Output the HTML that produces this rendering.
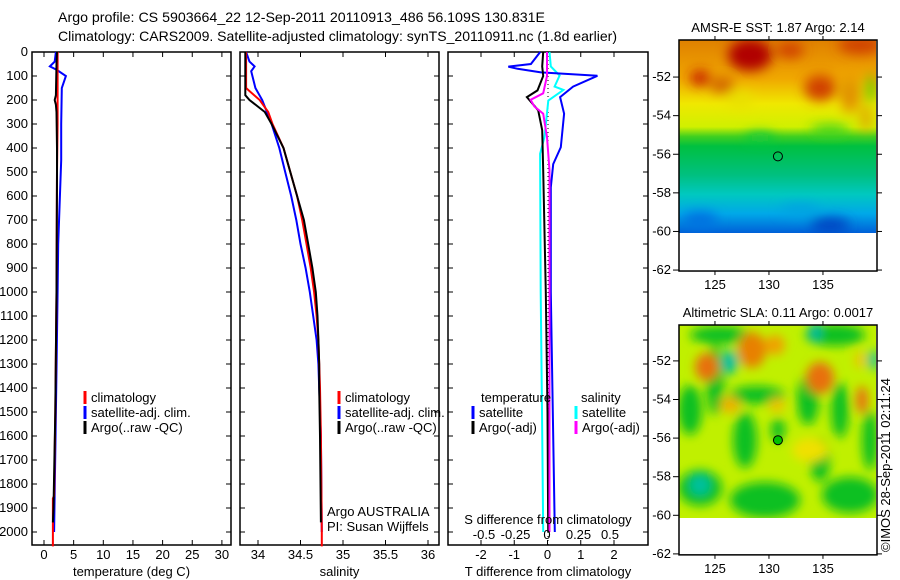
<!DOCTYPE html>
<html><head><meta charset="utf-8"><style>
body{margin:0;background:#fff;}
svg{display:block;font-family:"Liberation Sans",sans-serif;}
text{fill:#000;}
</style></head><body>
<svg id="c" width="900" height="580" viewBox="0 0 900 580">
<defs>
<filter id="bl1" x="-50%" y="-50%" width="200%" height="200%"><feGaussianBlur stdDeviation="6"/></filter>
<filter id="bl2" x="-50%" y="-50%" width="200%" height="200%"><feGaussianBlur stdDeviation="5"/></filter>
<clipPath id="cm1"><rect x="679" y="40" width="197" height="193"/></clipPath>
<clipPath id="cm2"><rect x="679" y="325" width="197" height="193"/></clipPath>
<linearGradient id="g1" x1="0" y1="0" x2="0" y2="1">
<stop offset="0" stop-color="#e08000"/><stop offset="0.2" stop-color="#f0a800"/><stop offset="0.33" stop-color="#f0e800"/><stop offset="0.45" stop-color="#d0f000"/><stop offset="0.5" stop-color="#40d020"/><stop offset="0.55" stop-color="#00c040"/><stop offset="0.7" stop-color="#00c080"/><stop offset="0.8" stop-color="#00c8c0"/><stop offset="0.9" stop-color="#00a8e8"/><stop offset="1" stop-color="#0060d8"/>
</linearGradient>
</defs>
<text x="58" y="22" font-size="14" textLength="487" lengthAdjust="spacingAndGlyphs">Argo profile: CS 5903664_22 12-Sep-2011 20110913_486 56.109S 130.831E</text>
<text x="58" y="41" font-size="14" textLength="559" lengthAdjust="spacingAndGlyphs">Climatology: CARS2009. Satellite-adjusted climatology: synTS_20110911.nc (1.8d earlier)</text>
<g id="root"></g>
<text transform="translate(890,552) rotate(-90)" font-size="13">©IMOS 28-Sep-2011 02:11:24</text>
</svg>
<script>
// ---- data ----
const depthTicks=[0,100,200,300,400,500,600,700,800,900,1000,1100,1200,1300,1400,1500,1600,1700,1800,1900,2000];
const tempTicks=[0,5,10,15,20,25,30];
const salTicks=[34,34.5,35,35.5,36];
const tdiffTicks=[-2,-1,0,1,2];
const sdiffTicks=[-0.5,-0.25,0,0.25,0.5];
const latTicks=[-52,-54,-56,-58,-60,-62];
const lonTicks=[125,130,135];

const tClimD=[0,100,200,300,500,1000,1500,1850,1860,2060];
const tClimV=[2.3,2.3,2.3,2.3,2.2,2.1,1.9,1.7,1.5,1.5];
const tSatD=[0,40,60,75,100,150,300,450,800,1000,1500,2000];
const tSatV=[2.0,1.8,1.0,2.2,3.7,3.0,2.9,2.9,2.4,2.3,2.0,1.7];
const tArgoD=[0,50,180,200,220,250,400,500,1000,1500,1900,1960];
const tArgoV=[2.2,2.1,2.0,1.8,2.0,2.1,2.2,2.2,2.1,1.9,1.6,1.5];

const sClimD=[0,150,160,200,250,300,400,500,600,700,800,900,1000,1100,1200,1300,1400,1600,2000,2060];
const sClimV=[33.86,33.86,33.89,34.02,34.12,34.17,34.3,34.38,34.46,34.52,34.57,34.62,34.66,34.69,34.71,34.72,34.73,34.74,34.75,34.75];
const sSatD=[0,40,60,80,150,200,300,400,500,600,700,800,900,1000,1100,1200,1300,1400,1600,2000];
const sSatV=[33.86,33.9,33.96,33.92,33.97,34.05,34.16,34.25,34.32,34.39,34.45,34.5,34.56,34.61,34.65,34.69,34.71,34.72,34.74,34.75];
const sArgoD=[0,180,200,250,300,400,500,600,700,800,900,1000,1100,1200,1300,1400,1600,1960];
const sArgoV=[33.85,33.85,33.9,34.08,34.16,34.3,34.38,34.46,34.54,34.59,34.64,34.68,34.7,34.71,34.72,34.72,34.73,34.74];

const dTSatD=[0,50,61,70,85,99,144,188,257,397,467,564,1000,1500,2000];
const dTSatV=[-0.22,-0.5,-1.18,-0.9,-0.2,1.5,0.77,0.38,0.5,0.4,0.17,0.1,0.1,0.16,0.22];
const dTArgoD=[0,60,100,160,188,243,326,493,1000,1500,2000];
const dTArgoV=[-0.13,-0.16,-0.13,-0.3,-0.62,-0.28,-0.16,-0.13,-0.05,0.0,0.02];
const dSSatD=[0,60,98,144,158,202,354,424,1000,1500,2000];
const dSSatV=[0.02,0.03,0.1,0.06,0.13,0.01,-0.02,-0.055,-0.05,-0.04,-0.03];
const dSArgoD=[0,100,172,199,227,257,354,493,1000,1500,2000];
const dSArgoV=[0,0,-0.03,-0.13,-0.1,-0.03,0,0.02,0.02,0.02,0.02];

const floatLon=[130.831];
const floatLat=[-56.109];

// ---- axes ----
const NS='http://www.w3.org/2000/svg';
const root=document.getElementById('root');
function el(tag,attrs,parent){const e=document.createElementNS(NS,tag);for(const k in attrs)e.setAttribute(k,attrs[k]);(parent||root).appendChild(e);return e;}
const yD=d=>52+d*0.24;
const xT=v=>44+v*5.93;
const xS=v=>258+(v-34)*85;
const xDT=v=>547.5+v*33.25;
const xDS=v=>547+v*126;
const lonX=v=>679+(v-121.67)*10.8;
const lat1=v=>40+(-50.08-v)*19.3;
const lat2=v=>325+(-50.14-v)*19.3;
const BOT=545;
const FS=13;

function panel(x0,x1,name,xf,ticks,label,xlab){
  const r=el('rect',{x:x0,y:52,width:x1-x0,height:BOT-52,fill:'none',stroke:'#000','stroke-width':1.5});
  
  
  depthTicks.forEach(d=>{el('line',{x1:x0,x2:x0+5,y1:yD(d),y2:yD(d),stroke:'#000'});el('line',{x1:x1-5,x2:x1,y1:yD(d),y2:yD(d),stroke:'#000'});});
  ticks.forEach(v=>{const x=xf(v);el('line',{x1:x,x2:x,y1:52,y2:57,stroke:'#000'});el('line',{x1:x,x2:x,y1:BOT-5,y2:BOT,stroke:'#000'});
    const t=el('text',{x:x,y:559,'font-size':FS,'text-anchor':'middle'});t.textContent=String(v);
    
    });
  const t=el('text',{x:(x0+x1)/2,y:576,'font-size':FS,'text-anchor':'middle'});t.textContent=xlab;
  
  
}
function line(D,V,xf,color,name,w){
  const pts=D.map((d,i)=>xf(V[i]).toFixed(1)+','+yD(d).toFixed(1)).join(' ');
  const p=el('polyline',{points:pts,fill:'none',stroke:color,'stroke-width':w||2,'stroke-linejoin':'miter'});
  
  
}
function leg(x,y,color,txt,name){
  el('line',{x1:x,x2:x,y1:y-11,y2:y+2,stroke:color,'stroke-width':3});
  const t=el('text',{x:x+6,y:y,'font-size':FS});t.textContent=txt;
  
  
}
depthTicks.forEach(d=>{const t=el('text',{x:28,y:yD(d)+4,'font-size':FS,'text-anchor':'end'});t.textContent=String(d);
  
  });

panel(32,231,'temperature-panel',xT,tempTicks,'','temperature (deg C)');
line(tSatD,tSatV,xT,'#0000ff','temp-satellite-line');
line(tClimD,tClimV,xT,'#ff0000','temp-climatology-line');
line(tArgoD,tArgoV,xT,'#000','temp-argo-line');
leg(85,402,'#f00','climatology','temp-legend-climatology');
leg(85,417,'#00f','satellite-adj. clim.','temp-legend-satellite');
leg(85,432,'#000','Argo(..raw -QC)','temp-legend-argo');

panel(240,439,'salinity-panel',xS,salTicks,'','salinity');
line(sSatD,sSatV,xS,'#0000ff','sal-satellite-line');
line(sClimD,sClimV,xS,'#ff0000','sal-climatology-line');
line(sArgoD,sArgoV,xS,'#000','sal-argo-line');
leg(339,402,'#f00','climatology','sal-legend-climatology');
leg(339,417,'#00f','satellite-adj. clim.','sal-legend-satellite');
leg(339,432,'#000','Argo(..raw -QC)','sal-legend-argo');
[['Argo AUSTRALIA',516],['PI: Susan Wijffels',531]].forEach(a=>{const t=el('text',{x:327,y:a[1],'font-size':FS});t.textContent=a[0];
  
  });

panel(448,648,'difference-panel',xDT,tdiffTicks,'','T difference from climatology');
const z=el('line',{x1:548,x2:548,y1:52,y2:BOT,stroke:'#000','stroke-dasharray':'1,3'});


line(dSSatD,dSSatV,xDS,'#00ffff','sdiff-satellite-line');
line(dTSatD,dTSatV,xDT,'#0000ff','tdiff-satellite-line');
line(dTArgoD,dTArgoV,xDT,'#000','tdiff-argo-line');
line(dSArgoD,dSArgoV,xDS,'#ff00ff','sdiff-argo-line');
[['temperature',481],['salinity',581]].forEach(a=>{const t=el('text',{x:a[1],y:402,'font-size':FS});t.textContent=a[0];
  
  });
leg(473,417,'#00f','satellite','tdiff-legend-satellite');
leg(473,432,'#000','Argo(-adj)','tdiff-legend-argo');
leg(576,417,'#0ff','satellite','sdiff-legend-satellite');
leg(576,432,'#f0f','Argo(-adj)','sdiff-legend-argo');
{const t=el('text',{x:548,y:524,'font-size':FS,'text-anchor':'middle'});t.textContent='S difference from climatology';
 
 }
sdiffTicks.forEach(v=>{const t=el('text',{x:xDS(v),y:539,'font-size':FS,'text-anchor':'middle'});t.textContent=String(v);
  
  });

// ---- maps ----
function mapFrame(top,latf,title,name){
  const t=el('text',{x:778,y:top-8,'font-size':FS,'text-anchor':'middle'});t.textContent=title;
  
  
  const r=el('rect',{x:679,y:top,width:198,height:latf(-62.05)-top,fill:'none',stroke:'#000','stroke-width':1.5});
  
  
  latTicks.forEach(v=>{const y=latf(v);el('line',{x1:673,x2:679,y1:y,y2:y,stroke:'#000'});el('line',{x1:877,x2:882,y1:y,y2:y,stroke:'#000'});
    const l=el('text',{x:671,y:y+4,'font-size':FS,'text-anchor':'end'});l.textContent=String(v);
    
    });
  const bot=latf(-62.05);
  lonTicks.forEach(v=>{const x=lonX(v);el('line',{x1:x,x2:x,y1:top-4,y2:top,stroke:'#000'});el('line',{x1:x,x2:x,y1:bot,y2:bot+4,stroke:'#000'});
    const l=el('text',{x:x,y:bot+18,'font-size':FS,'text-anchor':'middle'});l.textContent=String(v);
    
    });
  const c=el('circle',{cx:lonX(floatLon[0]),cy:latf(floatLat[0]),r:4.5,fill:name==='sla-map'?'#00c000':'none',stroke:'#000','stroke-width':1});
  
  
}
const g1=el('g',{'clip-path':'url(#cm1)'});


el('rect',{x:679,y:40,width:197,height:193,fill:'url(#g1)'},g1);
const b1=el('g',{filter:'url(#bl1)'},g1);
[[750,55,22,16,'#b00000'],[700,78,10,8,'#c82000'],[722,85,12,8,'#d06000'],[820,88,16,13,'#d04000'],[860,45,22,9,'#d04000'],[790,50,14,8,'#d04000'],[850,95,10,18,'#e09000'],[866,118,5,14,'#e0a000'],[740,100,14,8,'#e8e000'],[760,138,15,5,'#10c840'],[830,130,20,5,'#30d020'],[870,90,4,15,'#40d000'],[830,225,20,7,'#0040c0'],[700,220,18,8,'#0070e0'],[800,210,20,5,'#00a0e0']].forEach(a=>el('ellipse',{cx:a[0],cy:a[1],rx:a[2],ry:a[3],fill:a[4]},b1));
const g2=el('g',{'clip-path':'url(#cm2)'});


el('rect',{x:679,y:325,width:197,height:193,fill:'#c0f000'},g2);
const b2=el('g',{filter:'url(#bl2)'},g2);
[[720,335,30,9,'#10c020'],[835,335,30,11,'#10c020'],[715,380,9,35,'#10c020'],[757,395,28,9,'#10c020'],[808,400,11,25,'#10c020'],[840,410,9,28,'#10c020'],[690,410,12,25,'#10c020'],[745,440,12,28,'#10c020'],[778,430,7,12,'#10c020'],[700,488,22,18,'#10c020'],[765,500,35,18,'#10c020'],[850,495,28,18,'#10c020'],[820,460,10,22,'#10c020'],[870,440,8,30,'#10c020'],
 [707,367,12,14,'#e87010'],[752,350,14,18,'#e88000'],[775,345,10,10,'#f0a000'],[820,378,14,16,'#e87010'],[862,400,6,14,'#e87010'],[730,405,10,8,'#f0b000'],[777,405,8,7,'#f0c000'],[860,360,5,8,'#f0c000'],[810,450,18,12,'#f0e000'],
 [730,362,8,12,'#00c0a0'],[815,332,6,10,'#00b8a0'],[700,485,10,10,'#00c0a0'],[873,360,5,10,'#00c0a0']].forEach(a=>el('ellipse',{cx:a[0],cy:a[1],rx:a[2],ry:a[3],fill:a[4]},b2));
mapFrame(40,lat1,'AMSR-E SST: 1.87  Argo: 2.14','sst-map');
mapFrame(325,lat2,'Altimetric SLA: 0.11  Argo: 0.0017','sla-map');
</script>
</body></html>
